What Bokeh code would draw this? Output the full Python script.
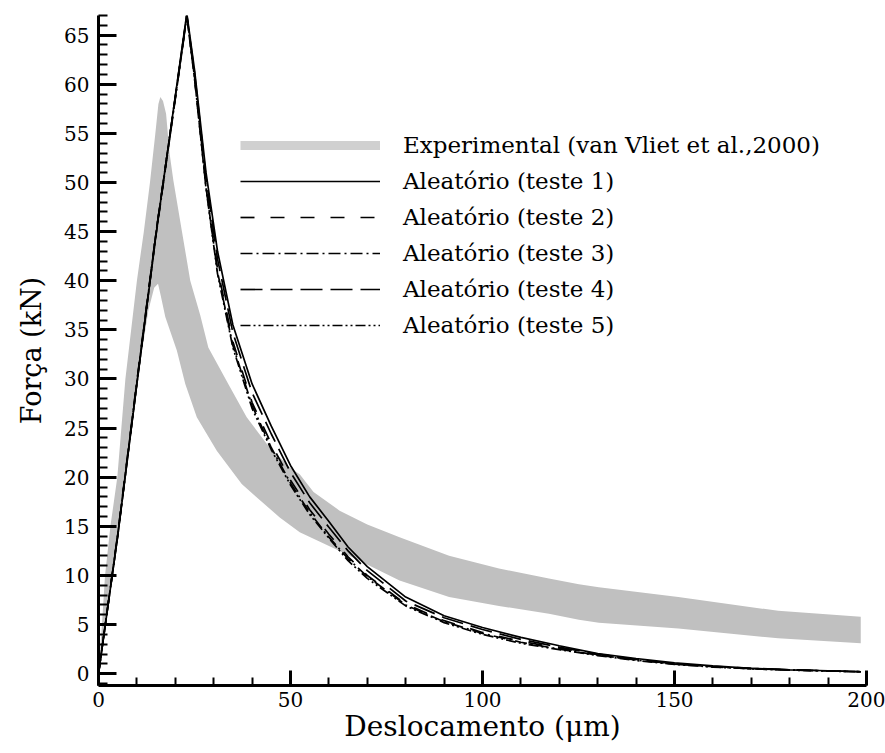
from bokeh.plotting import figure
from bokeh.models import Range1d, SingleIntervalTicker, Legend, LegendItem
from bokeh.embed import file_html
from bokeh.resources import INLINE

# ---- data ----
disp = [0, 5, 10, 15, 20, 23, 25, 28, 31, 35, 40, 45, 50, 55, 60, 65, 70, 80, 90,
        100, 110, 120, 130, 140, 150, 160, 170, 180, 190, 198.5]
teste1 = [0, 14.0, 29.5, 44.8, 58.8, 67.2, 61.5, 51.0, 43.0, 35.5, 29.5, 25.2, 21.2, 18.0,
          15.5, 12.9, 10.9, 7.8, 5.9, 4.7, 3.7, 2.85, 2.05, 1.55, 1.1, 0.8, 0.55, 0.4, 0.3, 0.2]
teste2 = [0, 14.2, 29.8, 45.0, 58.6, 66.8, 60.8, 49.8, 41.2, 33.8, 27.6, 23.4, 19.7, 16.7,
          14.2, 11.9, 10.0, 7.1, 5.4, 4.2, 3.3, 2.6, 1.95, 1.4, 1.0, 0.72, 0.52, 0.38, 0.28, 0.2]
teste3 = [0, 14.0, 29.6, 44.7, 58.5, 66.9, 60.6, 49.5, 40.9, 33.4, 27.3, 23.0, 19.4, 16.4,
          13.9, 11.7, 9.9, 7.0, 5.3, 4.1, 3.2, 2.5, 1.9, 1.4, 0.98, 0.7, 0.5, 0.38, 0.28, 0.2]
teste4 = [0, 14.1, 29.6, 44.9, 58.7, 67.0, 61.2, 50.5, 42.2, 34.7, 28.6, 24.4, 20.5, 17.4,
          14.9, 12.5, 10.5, 7.4, 5.7, 4.5, 3.5, 2.7, 2.0, 1.45, 1.0, 0.75, 0.55, 0.4, 0.3, 0.2]
teste5 = [0, 14.1, 29.7, 44.9, 58.7, 67.1, 60.7, 49.4, 40.7, 33.2, 27.0, 22.8, 19.2, 16.2,
          13.8, 11.5, 9.7, 6.9, 5.2, 4.0, 3.1, 2.45, 1.85, 1.35, 0.95, 0.68, 0.5, 0.37, 0.27, 0.2]

# experimental band: upper envelope and lower envelope
exp_upper_x = [0, 0.9, 1.7, 3.1, 4.9, 7.0, 10.0, 11.8, 13.4, 14.8, 15.6, 16.1, 16.8, 17.6,
               18.5, 19.5, 21.7, 23.9, 26.5, 28.6, 33.8, 38.6, 44.0, 49.8, 52.4, 56.0, 62.8,
               70.0, 78.4, 91.3, 104.3, 117.3, 125.1, 130.3, 151.0, 177.0, 198.5]
exp_upper_y = [0, 5, 10, 15, 20, 30, 40, 45, 50, 55, 58.0, 58.7, 58.3, 57.0,
               53.0, 50.2, 45.1, 40.0, 36.5, 33.2, 29.5, 26.1, 23.3, 21.0, 20.3, 18.5, 16.6,
               15.2, 13.9, 12.0, 10.7, 9.7, 9.1, 8.8, 7.8, 6.4, 5.8]
exp_lower_x = [0, 3.4, 6.9, 10.2, 13.0, 14.5, 15.5, 16.2, 17.4, 20.4, 22.6, 25.6, 30.8,
               37.3, 47.2, 52.4, 62.8, 78.4, 91.3, 104.3, 117.3, 125.1, 130.3, 151.0,
               177.0, 198.5]
exp_lower_y = [0, 10, 20, 30, 37, 39.3, 39.7, 38.5, 36.3, 32.9, 29.5, 26.1, 22.7,
               19.3, 15.9, 14.4, 12.5, 9.5, 7.8, 6.9, 6.1, 5.5, 5.2, 4.6,
               3.6, 3.1]

labels = ["Experimental (van Vliet et al.,2000)", "Aleatório (teste 1)", "Aleatório (teste 2)",
          "Aleatório (teste 3)", "Aleatório (teste 4)", "Aleatório (teste 5)"]

FONT = "DejaVu Serif"

p = figure(width=885, height=753, x_range=Range1d(0, 200), y_range=Range1d(-1.2, 67),
           output_backend="svg", toolbar_location=None,
           min_border_left=98, min_border_right=19, min_border_top=15, min_border_bottom=68)
p.background_fill_color = "white"
p.border_fill_color = "white"
p.outline_line_color = None
p.xgrid.visible = False
p.ygrid.visible = False

# band
band_x = exp_upper_x + exp_lower_x[::-1]
band_y = exp_upper_y + exp_lower_y[::-1]
p.patch(band_x, band_y, fill_color="#c0c0c0", line_color=None)

# legend-only swatch for the band (single NaN point, draws nothing in the plot)
r_exp = p.line(x=[float("nan")], y=[float("nan")], line_color="#d0d0d0", line_width=9)

r1 = p.line(disp, teste1, line_color="black", line_width=1.7)
r2 = p.line(disp, teste2, line_color="black", line_width=1.7, line_dash="14 16")
r3 = p.line(disp, teste3, line_color="black", line_width=1.7, line_dash="12 4 2 4")
r4 = p.line(disp, teste4, line_color="black", line_width=1.7, line_dash="22 8")
r5 = p.line(disp, teste5, line_color="black", line_width=1.7, line_dash="10 3 2 3 2 3")

legend = Legend(items=[LegendItem(label=l, renderers=[r]) for l, r in
                       zip(labels, [r_exp, r1, r2, r3, r4, r5])],
                location=(142, 345), glyph_width=140, glyph_height=30, label_height=30,
                spacing=6, padding=0, margin=0, label_standoff=23,
                label_text_font=FONT, label_text_font_size="23px", label_text_color="black",
                background_fill_alpha=0, border_line_alpha=0)
p.add_layout(legend)

# axes
p.xaxis.ticker = SingleIntervalTicker(interval=50, num_minor_ticks=5)
p.yaxis.ticker = SingleIntervalTicker(interval=5, num_minor_ticks=5)
p.xaxis.axis_label = "Deslocamento (μm)"
p.yaxis.axis_label = "Força (kN)"
for ax in (p.xaxis, p.yaxis):
    ax.axis_line_width = 3
    ax.axis_line_color = "black"
    ax.major_tick_line_width = 3
    ax.minor_tick_line_width = 2
    ax.major_tick_line_color = "black"
    ax.minor_tick_line_color = "black"
    ax.major_tick_out = 0
    ax.minor_tick_out = 0
    ax.major_label_text_font = FONT
    ax.major_label_text_font_size = "20px"
    ax.major_label_text_color = "black"
    ax.axis_label_text_font = FONT
    ax.axis_label_text_font_style = "normal"
    ax.axis_label_text_color = "black"
p.xaxis.axis_label_text_font_size = "28px"
p.yaxis.axis_label_text_font_size = "27px"
p.xaxis.major_tick_in = 15
p.xaxis.minor_tick_in = 8
p.yaxis.major_tick_in = 18
p.yaxis.minor_tick_in = 9
p.xaxis.major_label_standoff = 6
p.xaxis.axis_label_standoff = 0
p.yaxis.major_label_standoff = 9
p.yaxis.axis_label_standoff = 14

open("out.html", "w").write(file_html(p, INLINE))
